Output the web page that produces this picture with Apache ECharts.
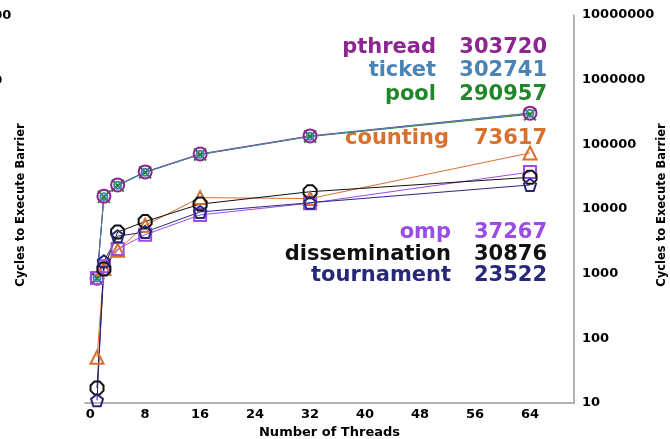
<!DOCTYPE html>
<html>
<head>
<meta charset="utf-8">
<script src="https://cdn.jsdelivr.net/npm/echarts@6/dist/echarts.min.js"></script>
<style>
  html, body { margin: 0; padding: 0; background: #fff; }
  #chart { width: 670px; height: 439px; }
</style>
</head>
<body>
<div id="chart"></div>
<script>
// Thread counts on the x axis
const threads = [1, 2, 4, 8, 16, 32, 64];

// Cycles needed to execute one barrier, per implementation
const pthread       = [850, 15800, 23500, 37500, 71000, 135000, 303720];
const ticket        = [860, 15500, 23200, 37000, 70000, 133000, 302741];
const pool          = [840, 15400, 23000, 36800, 69500, 132000, 290957];
const counting      = [51, 1200, 2300, 5600, 15000, 14500, 73617];
const omp           = [860, 1300, 2400, 4000, 8100, 12300, 37267];
const dissemination = [17, 1180, 4400, 6400, 11900, 18500, 30876];
const tournament    = [11, 1550, 3800, 4400, 9000, 12500, 23522];

// Tick labels
const xTicks = [0, 8, 16, 24, 32, 40, 48, 56, 64];
const yTicks = [10, 100, 1000, 10000, 100000, 1000000, 10000000];
// Labels of the neighbouring panel's axis that spill in at the left edge
const spillTicks = ['10000000', '1000000'];

// Drawing order: later series sit on top
const seriesDefs = [
  { name: 'pool', data: pool, color: '#22872a', symbol: 'path://M0,0 L10,10 M10,0 L0,10', size: 12 },
  { name: 'pthread', data: pthread, color: '#8e2491', symbol: 'circle', size: 13 },
  { name: 'ticket', data: ticket, color: '#4a84b5', symbol: 'circle', size: 7 },
  { name: 'counting', data: counting, color: '#d8702e', symbol: 'triangle', size: 13 },
  { name: 'omp', data: omp, color: '#9a4de6', symbol: 'rect', size: 12 },
  { name: 'dissemination', data: dissemination, color: '#111111', symbol: 'path://M3,0 L7,0 L10,3 L10,7 L7,10 L3,10 L0,7 L0,3 Z', size: 13 },
  { name: 'tournament', data: tournament, color: '#27287c', symbol: 'path://M5,0 L10,3.8 L8.1,10 L1.9,10 L0,3.8 Z', size: 12 }
];

// Value callouts at the right of the plot
const callouts = [
  { name: 'pthread', value: '303720', color: '#8e2491', y: 48, nameEnd: 436 },
  { name: 'ticket', value: '302741', color: '#4a84b5', y: 71, nameEnd: 436 },
  { name: 'pool', value: '290957', color: '#22872a', y: 95, nameEnd: 436 },
  { name: 'counting', value: '73617', color: '#d8702e', y: 139, nameEnd: 449 },
  { name: 'omp', value: '37267', color: '#9a4de6', y: 233, nameEnd: 451 },
  { name: 'dissemination', value: '30876', color: '#111111', y: 255, nameEnd: 451 },
  { name: 'tournament', value: '23522', color: '#27287c', y: 276, nameEnd: 451 }
];

const FONT = 'DejaVu Sans';
const chart = echarts.init(document.getElementById('chart'), null, { renderer: 'canvas' });

const graphics = [];
callouts.forEach(c => {
  graphics.push({
    type: 'text', x: c.nameEnd, y: c.y,
    style: { text: c.name, fill: c.color, font: 'bold 21px "' + FONT + '"', align: 'right', verticalAlign: 'middle' }
  });
  graphics.push({
    type: 'text', x: 547, y: c.y,
    style: { text: c.value, fill: c.color, font: 'bold 21px "' + FONT + '"', align: 'right', verticalAlign: 'middle' }
  });
});
graphics.push({
  type: 'text', x: 21, y: 205, rotation: Math.PI / 2,
  style: { text: 'Cycles to Execute Barrier', fill: '#000', font: 'bold 11.5px "' + FONT + '"', align: 'center', verticalAlign: 'middle' }
});
graphics.push({
  type: 'text', x: 662, y: 205, rotation: Math.PI / 2,
  style: { text: 'Cycles to Execute Barrier', fill: '#000', font: 'bold 11.5px "' + FONT + '"', align: 'center', verticalAlign: 'middle' }
});
spillTicks.forEach((t, i) => {
  graphics.push({
    type: 'text', x: -61, y: 16 + i * 64.7,
    style: { text: t, fill: '#000', font: 'bold 13px "' + FONT + '"', align: 'left', verticalAlign: 'middle' }
  });
});

const option = {
  backgroundColor: '#fff',
  animation: false,
  grid: { left: 85, right: 96, top: 15, bottom: 36, containLabel: false, outerBoundsMode: 'none' },
  xAxis: {
    type: 'value', min: -0.75, max: 70.4,
    name: 'Number of Threads', nameLocation: 'middle', nameGap: 22,
    nameTextStyle: { fontFamily: FONT, fontWeight: 'bold', fontSize: 13, color: '#000' },
    axisLine: { show: true, lineStyle: { color: '#9a9a9a', width: 1.5 } },
    axisTick: { show: false },
    splitLine: { show: false },
    axisLabel: {
      customValues: xTicks, margin: 5,
      fontFamily: FONT, fontWeight: 'bold', fontSize: 13, color: '#000'
    }
  },
  yAxis: {
    type: 'log', logBase: 10, min: 10, max: 10000000, position: 'right',
    axisLine: { show: true, onZero: false, lineStyle: { color: '#9a9a9a', width: 1.5 } },
    axisTick: { show: false },
    splitLine: { show: false },
    axisLabel: {
      customValues: yTicks, margin: 8,
      fontFamily: FONT, fontWeight: 'bold', fontSize: 13, color: '#000',
      formatter: v => String(Math.round(v))
    }
  },
  graphic: graphics,
  series: seriesDefs.map(s => ({
    type: 'line', name: s.name,
    data: threads.map((t, i) => [t, s.data[i]]),
    symbol: s.symbol, symbolSize: s.size, showAllSymbol: true,
    lineStyle: { color: s.color, width: 1 },
    itemStyle: { color: 'rgba(0,0,0,0)', borderColor: s.color, borderWidth: 2 },
    emphasis: { disabled: true },
    z: 3
  }))
};

chart.setOption(option);
</script>
</body>
</html>
